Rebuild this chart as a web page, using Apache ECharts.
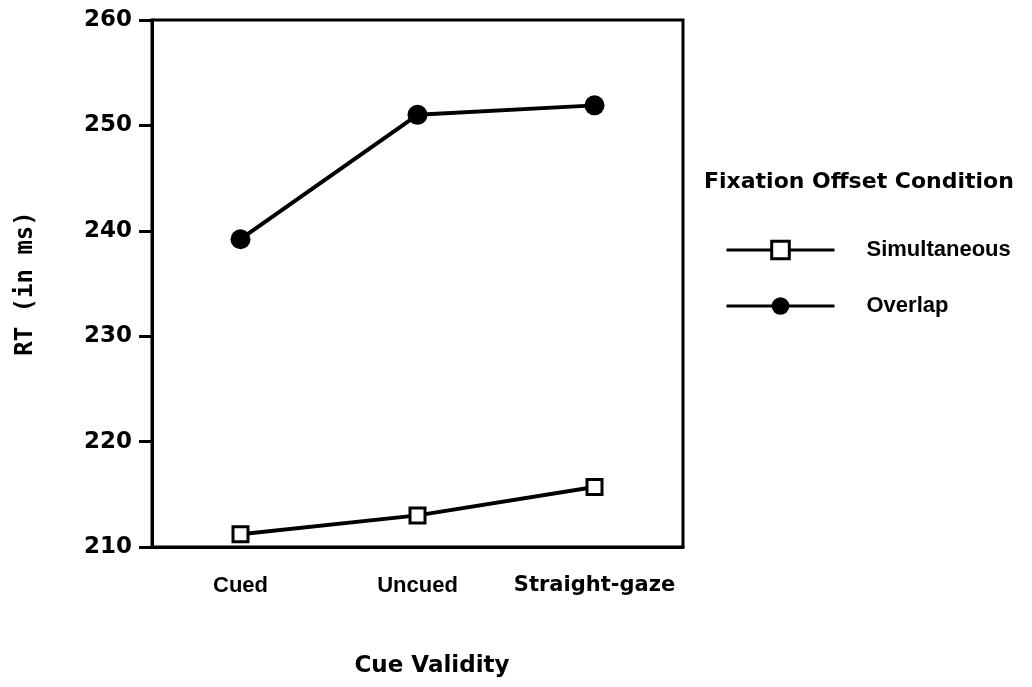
<!DOCTYPE html>
<html>
<head>
<meta charset="utf-8">
<script src="https://cdn.jsdelivr.net/npm/echarts@6/dist/echarts.min.js"></script>
<style>
html,body{margin:0;padding:0;background:#fff;}
#chart{width:1032px;height:687px;}
</style>
</head>
<body>
<div id="chart"></div>
<script>
const categories = ['Cued', 'Uncued', 'Straight-gaze'];
const simultaneous = [211.2, 213.0, 215.7];
const overlap = [239.2, 251.0, 251.9];
const yTicks = [210, 220, 230, 240, 250, 260];
const legendTitle = 'Fixation Offset Condition';
const xTitle = 'Cue Validity';
const yTitle = 'RT (in ms)';

const chart = echarts.init(document.getElementById('chart'));
chart.setOption({
  backgroundColor: '#fff',
  animation: false,
  title: {
    text: legendTitle,
    left: 704,
    top: 171,
    padding: 0,
    textStyle: { fontFamily: 'DejaVu Sans', fontWeight: 'bold', fontSize: 22, color: '#000' }
  },
  legend: {
    orient: 'vertical',
    left: 725,
    top: 239,
    padding: 0,
    itemWidth: 108,
    itemHeight: 22,
    itemGap: 34,
    lineStyle: { width: 3 },
    textStyle: {
      fontFamily: 'Liberation Sans', fontWeight: 'bold', fontSize: 22, color: '#000',
      padding: [0, 0, 0, 27]
    },
    data: [
      { name: 'Simultaneous', itemStyle: { color: '#fff', borderColor: '#000', borderWidth: 3 } },
      { name: 'Overlap', itemStyle: { color: '#000', borderWidth: 0 } }
    ]
  },
  grid: {
    left: 152, right: 349, top: 20, bottom: 140,
    show: true, borderColor: '#000', borderWidth: 3, backgroundColor: 'transparent'
  },
  xAxis: {
    type: 'category',
    data: categories,
    boundaryGap: true,
    name: xTitle,
    nameLocation: 'middle',
    nameGap: 108,
    nameTextStyle: {
      fontFamily: 'DejaVu Sans', fontWeight: 'bold', fontSize: 23, color: '#000',
      padding: [0, 0, 0, 29]
    },
    axisLine: { lineStyle: { color: '#000', width: 3 } },
    axisTick: { alignWithLabel: true, length: 14, lineStyle: { color: '#000', width: 3 } },
    axisLabel: {
      margin: 28,
      color: '#000',
      formatter: function (v) { return v === 'Straight-gaze' ? '{b|' + v + '}' : '{a|' + v + '}'; },
      rich: {
        a: { fontFamily: 'Liberation Sans', fontWeight: 'bold', fontSize: 22, color: '#000' },
        b: { fontFamily: 'DejaVu Sans', fontWeight: 'bold', fontSize: 21, color: '#000' }
      }
    },
    splitLine: { show: false }
  },
  yAxis: {
    type: 'value',
    min: yTicks[0],
    max: yTicks[yTicks.length - 1],
    interval: 10,
    name: yTitle,
    nameLocation: 'middle',
    nameRotate: 90,
    nameGap: 114,
    nameTextStyle: { fontFamily: 'DejaVu Sans Mono', fontWeight: 'bold', fontSize: 24, color: '#000' },
    axisLine: { show: true, lineStyle: { color: '#000', width: 3 } },
    axisTick: { show: true, length: 13, lineStyle: { color: '#000', width: 3 } },
    axisLabel: {
      margin: 20,
      color: '#000',
      fontFamily: 'DejaVu Sans', fontWeight: 'bold', fontSize: 23
    },
    splitLine: { show: false }
  },
  series: [
    {
      name: 'Simultaneous',
      type: 'line',
      data: simultaneous,
      symbol: 'rect',
      symbolSize: 15,
      lineStyle: { color: '#000', width: 4 },
      itemStyle: { color: '#fff', borderColor: '#000', borderWidth: 3 },
      z: 3
    },
    {
      name: 'Overlap',
      type: 'line',
      data: overlap,
      symbol: 'circle',
      symbolSize: 20,
      lineStyle: { color: '#000', width: 4 },
      itemStyle: { color: '#000', borderWidth: 0 },
      z: 3
    }
  ]
});
</script>
</body>
</html>
